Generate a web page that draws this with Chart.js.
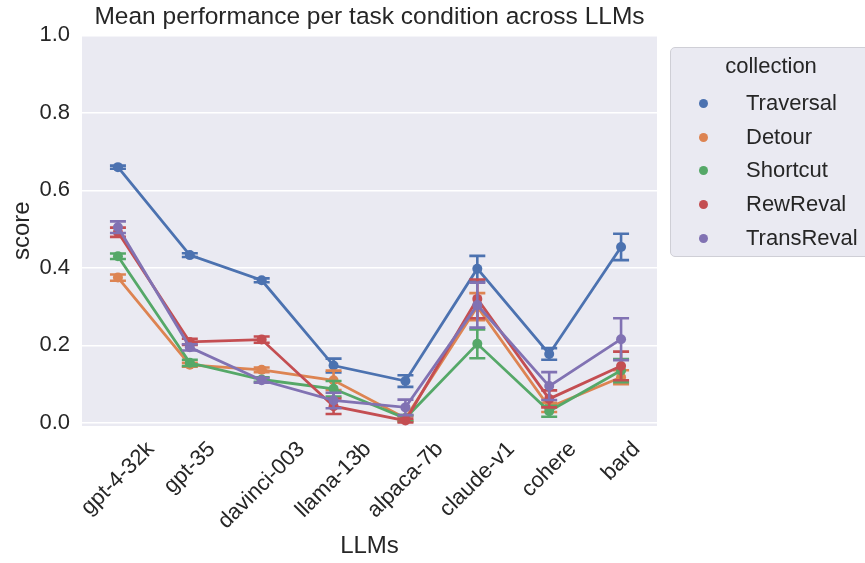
<!DOCTYPE html>
<html>
<head>
<meta charset="utf-8">
<script src="https://cdn.jsdelivr.net/npm/chart.js@4.4.1/dist/chart.umd.min.js"></script>
<style>
  html, body { margin: 0; padding: 0; background: #ffffff; }
  #wrap { position: relative; width: 865px; height: 563px; overflow: hidden; font-family: "Liberation Sans", Arial, sans-serif; }
  #legend {
    position: absolute; left: 670px; top: 47px; width: 205px; height: 210px;
    background: #eaeaf2; border: 1px solid #cfcfd6; border-radius: 5px; box-sizing: border-box;
    color: #262626;
  }
  #legend .ttl { position: absolute; left: 0; width: 200px; top: 5px; text-align: center; font-size: 22px; }
  #legend .row { position: absolute; left: 0; height: 30px; line-height: 30px; font-size: 22px; }
  #legend .dot { position: absolute; left: 28px; top: 11px; width: 9px; height: 9px; border-radius: 50%; }
  #legend .lbl { position: absolute; left: 75px; white-space: nowrap; }
</style>
</head>
<body>
<div id="wrap">
  <canvas id="chart" width="865" height="563"></canvas>
  <div id="legend"></div>
</div>
<script>
const llms = ["gpt-4-32k", "gpt-35", "davinci-003", "llama-13b", "alpaca-7b", "claude-v1", "cohere", "bard"];
const collections = ["Traversal", "Detour", "Shortcut", "RewReval", "TransReval"];
const colors = ["#4C72B0", "#DD8452", "#55A868", "#C44E52", "#8172B3"];
const yTicks = [0.0, 0.2, 0.4, 0.6, 0.8, 1.0];

// mean score per LLM, one array per collection
const traversal  = [0.660, 0.433, 0.368, 0.148, 0.108, 0.398, 0.178, 0.454];
const detour     = [0.375, 0.150, 0.137, 0.110, 0.012, 0.300, 0.040, 0.118];
const shortcut   = [0.430, 0.155, 0.112, 0.088, 0.012, 0.204, 0.030, 0.135];
const rewReval   = [0.492, 0.209, 0.215, 0.043, 0.006, 0.320, 0.062, 0.147];
const transReval = [0.505, 0.195, 0.110, 0.058, 0.040, 0.304, 0.095, 0.216];

// half width of the error bars
const traversalErr  = [0.004, 0.005, 0.005, 0.018, 0.015, 0.033, 0.015, 0.034];
const detourErr     = [0.008, 0.005, 0.006, 0.025, 0.006, 0.035, 0.012, 0.018];
const shortcutErr   = [0.007, 0.008, 0.006, 0.020, 0.008, 0.037, 0.014, 0.030];
const rewRevalErr   = [0.012, 0.008, 0.008, 0.020, 0.005, 0.050, 0.022, 0.037];
const transRevalErr = [0.015, 0.008, 0.006, 0.020, 0.020, 0.058, 0.036, 0.054];

const means = [traversal, detour, shortcut, rewReval, transReval];
const errs = [traversalErr, detourErr, shortcutErr, rewRevalErr, transRevalErr];

const FONT = "'Liberation Sans', Arial, sans-serif";
const TEXT = "#262626";

// legend
const legend = document.getElementById("legend");
legend.innerHTML = '<div class="ttl">collection</div>';
collections.forEach((name, i) => {
    const row = document.createElement("div");
    row.className = "row";
    row.style.top = (40 + i * 33.7) + "px";
    row.innerHTML = `<span class="dot" style="background:${colors[i]}"></span><span class="lbl">${name}</span>`;
    legend.appendChild(row);
});

const bgPlugin = {
    id: "bg",
    beforeDraw(chart) {
        const a = chart.chartArea;
        const ctx = chart.ctx;
        ctx.save();
        ctx.fillStyle = "#eaeaf2";
        ctx.fillRect(a.left, a.top, a.right - a.left, a.bottom - a.top);
        ctx.restore();
    }
};

const errPlugin = {
    id: "errbars",
    afterDatasetDraw(chart, args) {
        const i = args.index;
        const meta = args.meta;
        const y = chart.scales.y;
        const ctx = chart.ctx;
        ctx.save();
        ctx.strokeStyle = colors[i];
        ctx.lineWidth = 2.6;
        meta.data.forEach((pt, j) => {
            const lo = y.getPixelForValue(means[i][j] - errs[i][j]);
            const hi = y.getPixelForValue(means[i][j] + errs[i][j]);
            ctx.beginPath();
            ctx.moveTo(pt.x, lo); ctx.lineTo(pt.x, hi);
            ctx.moveTo(pt.x - 8, lo); ctx.lineTo(pt.x + 8, lo);
            ctx.moveTo(pt.x - 8, hi); ctx.lineTo(pt.x + 8, hi);
            ctx.stroke();
        });
        ctx.restore();
    }
};

// x tick labels rotated 45deg, centred on the tick like matplotlib
const xLabelPlugin = {
    id: "xlabels",
    afterDraw(chart) {
        const x = chart.scales.x;
        const ctx = chart.ctx;
        const size = 22;
        ctx.save();
        ctx.font = size + "px " + FONT;
        ctx.fillStyle = TEXT;
        ctx.textAlign = "center";
        ctx.textBaseline = "middle";
        const s = Math.SQRT1_2;
        llms.forEach((lab, j) => {
            const w = ctx.measureText(lab).width;
            const px = x.getPixelForTick(j);
            const top = chart.chartArea.bottom + 12;
            const cy = top + (w + size) * s / 2;
            ctx.save();
            ctx.translate(px, cy);
            ctx.rotate(-Math.PI / 4);
            ctx.fillText(lab, 0, 0);
            ctx.restore();
        });
        ctx.restore();
    }
};

const ctx = document.getElementById("chart").getContext("2d");
new Chart(ctx, {
    type: "line",
    data: {
        labels: llms,
        datasets: collections.map((name, i) => ({
            label: name,
            data: means[i],
            borderColor: colors[i],
            backgroundColor: colors[i],
            pointBackgroundColor: colors[i],
            pointBorderWidth: 0,
            pointRadius: 5,
            borderWidth: 2.8,
            tension: 0,
            order: collections.length - i
        }))
    },
    options: {
        responsive: false,
        animation: false,
        devicePixelRatio: 1,
        layout: { padding: { left: 0, right: 208, top: 0, bottom: 0 } },
        plugins: {
            legend: { display: false },
            tooltip: { enabled: false },
            title: {
                display: true,
                text: "Mean performance per task condition across LLMs",
                color: TEXT,
                font: { family: FONT, size: 24.5, weight: "normal" },
                padding: { top: 3, bottom: 3 },
                fullSize: false
            }
        },
        scales: {
            x: {
                offset: true,
                grid: { display: false, drawTicks: false },
                border: { display: false },
                ticks: { display: false },
                title: {
                    display: true, text: "LLMs", color: TEXT,
                    font: { family: FONT, size: 24 },
                    padding: { top: 0, bottom: 2 }
                },
                afterFit(scale) { scale.height = 137; }
            },
            y: {
                min: -0.008,
                max: 1.0,
                afterBuildTicks(scale) { scale.ticks = yTicks.map(v => ({ value: v })); },
                grid: { color: "#ffffff", lineWidth: 1.6, drawTicks: false },
                border: { display: false },
                ticks: {
                    color: TEXT, padding: 12,
                    font: { family: FONT, size: 22 },
                    callback: v => v.toFixed(1)
                },
                title: {
                    display: true, text: "score", color: TEXT,
                    font: { family: FONT, size: 24 },
                    padding: { top: 8, bottom: 0 }
                },
                afterFit(scale) { scale.width = 82; }
            }
        }
    },
    plugins: [bgPlugin, errPlugin, xLabelPlugin]
});
</script>
</body>
</html>
